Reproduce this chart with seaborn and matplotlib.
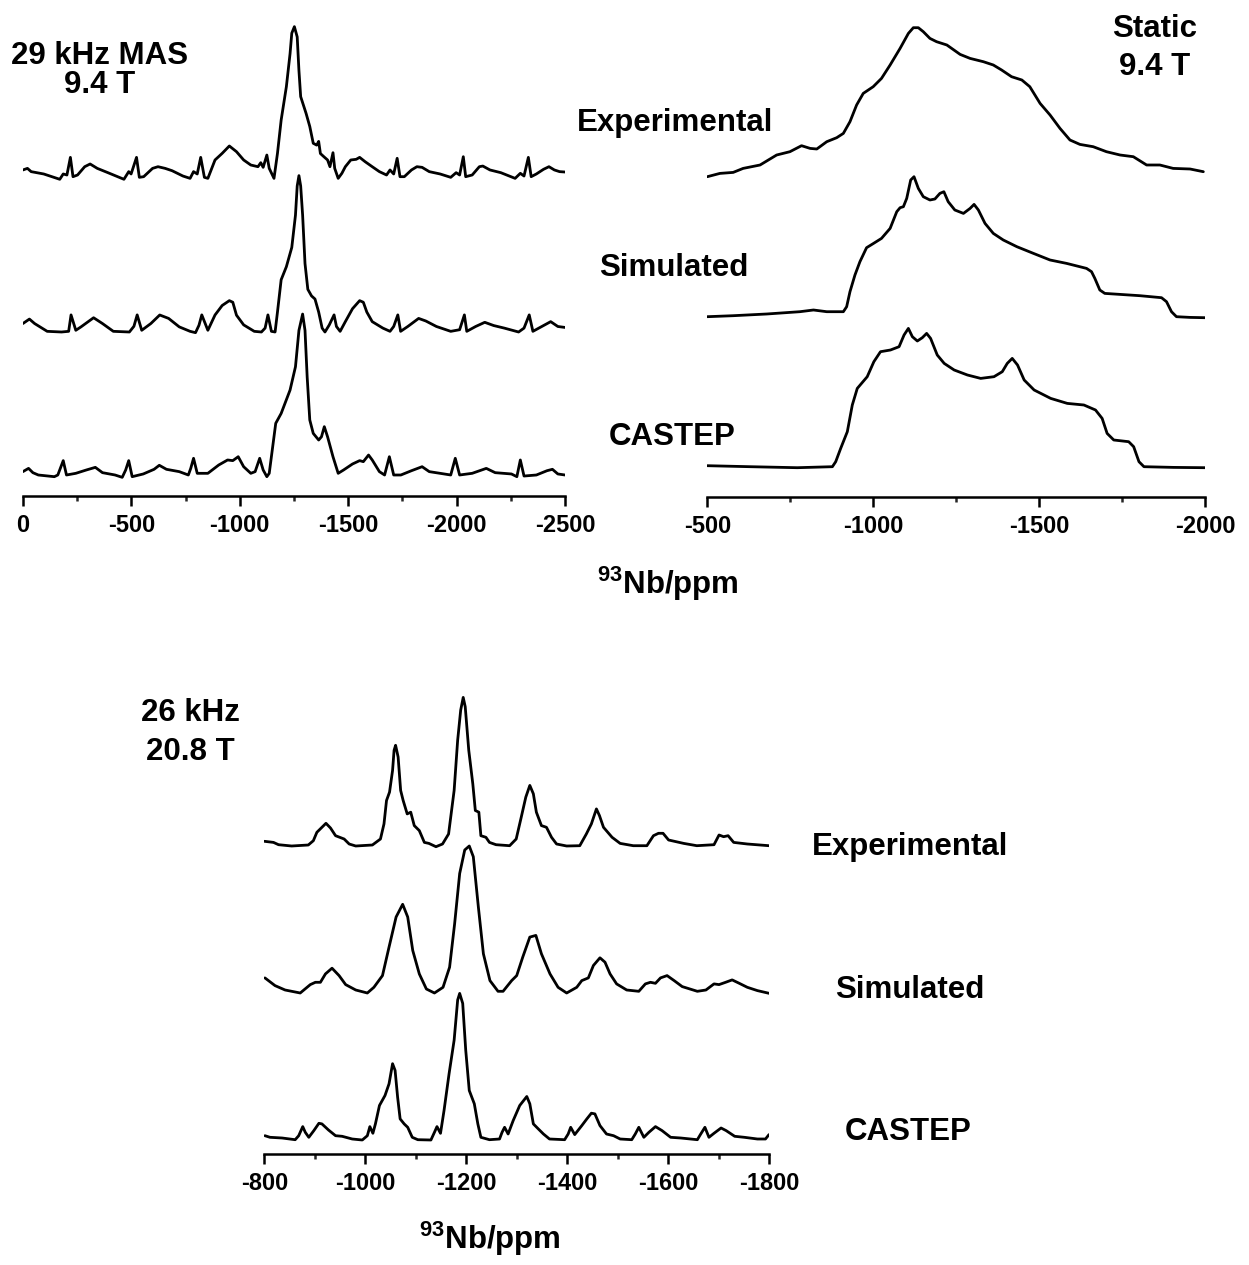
import matplotlib
matplotlib.use("Agg")
import matplotlib.pyplot as plt
import pandas as pd
import seaborn as sns
from matplotlib.ticker import MultipleLocator

# ---------------------------------------------------------------------------
# 93Nb spectra: (ppm, intensity) pairs, intensity in arbitrary units
# ---------------------------------------------------------------------------

# 29 kHz MAS, 9.4 T
mas94_experimental = [
    (0, 5.4), (-21, 7.1), (-38, 3.6), (-96, 1.1), (-170, -4.6), (-186, 1.1), (-203, 0),
    (-219, 18.9), (-231, -1.8), (-252, 0), (-285, 8.9), (-310, 11.8), (-343, 7.1),
    (-392, 2.5), (-466, -4.6), (-488, 3.6), (-499, 1.1), (-524, 18.9), (-537, -2.5),
    (-557, -1.8), (-598, 7.1), (-623, 8.9), (-656, 7.1), (-688, 4.6), (-738, -1.1),
    (-771, -3.6), (-787, 3.6), (-804, 1.1), (-820, 18.9), (-837, -2.5), (-853, -3.6),
    (-886, 16.1), (-919, 23.2), (-952, 31.1), (-985, 25), (-1018, 16.1), (-1051, 10.7),
    (-1084, 8.9), (-1097, 13.2), (-1108, 8.2), (-1125, 21.4), (-1136, 7.1), (-1158, -3.6),
    (-1174, 23.2), (-1191, 58.9), (-1215, 94.6), (-1232, 130), (-1240, 152), (-1252, 159),
    (-1265, 148), (-1273, 112), (-1281, 84), (-1306, 66), (-1323, 52), (-1339, 34),
    (-1355, 32), (-1364, 36), (-1372, 23), (-1388, 19.6), (-1405, 16.1), (-1416, 8.9),
    (-1430, 23.9), (-1438, 7.1), (-1454, -3.6), (-1471, 1.8), (-1487, 8.9), (-1512, 16.1),
    (-1537, 16.8), (-1553, 18.9), (-1578, 14.3), (-1611, 8.9), (-1644, 3.6), (-1677, 0),
    (-1693, 5.4), (-1710, 1.1), (-1726, 17.9), (-1739, -1.8), (-1759, -1.8), (-1792, 5.4),
    (-1817, 8.9), (-1841, 8.2), (-1874, 3.6), (-1924, 1.1), (-1973, -2.5), (-1998, 2.5),
    (-2014, 0), (-2031, 19.6), (-2042, -1.8), (-2072, 0), (-2105, 8.9), (-2121, 9.6),
    (-2154, 5.4), (-2204, 2.5), (-2270, -3.6), (-2294, 1.8), (-2311, -1.1), (-2331, 18.9),
    (-2344, -1.8), (-2368, 1.1), (-2401, 6.1), (-2426, 8.9), (-2451, 5.4), (-2475, 3.6),
    (-2500, 3.2),
]

mas94_simulated = [
    (0, 8.9), (-30, 13.6), (-54, 8.9), (-112, 0.7), (-178, 0), (-211, 0.7), (-222, 18),
    (-244, 1.8), (-268, 5.4), (-326, 15), (-367, 8.9), (-417, 0.7), (-491, 0), (-512, 6),
    (-527, 18), (-548, 1.8), (-590, 8.9), (-631, 17.9), (-672, 14.3), (-721, 5.4),
    (-771, 0.7), (-796, -0.7), (-812, 7.1), (-825, 18), (-853, 1.8), (-886, 17.9),
    (-919, 27.9), (-952, 33), (-968, 31.3), (-985, 17.7), (-1018, 7.5), (-1067, 0.7),
    (-1100, 0), (-1117, 4.1), (-1130, 18), (-1146, 0.7), (-1163, 0), (-1174, 21),
    (-1191, 55), (-1215, 68.7), (-1240, 89), (-1257, 123), (-1265, 153.7), (-1273, 164.6),
    (-1281, 153.7), (-1290, 123), (-1301, 72), (-1314, 44.9), (-1331, 38), (-1347, 34.7),
    (-1364, 21), (-1380, 4.1), (-1393, 0), (-1413, 7.5), (-1435, 18), (-1446, 5.8),
    (-1463, 0.7), (-1487, 10.9), (-1520, 24.5), (-1553, 33), (-1570, 31.3), (-1586, 21),
    (-1611, 10.9), (-1660, 4.1), (-1693, 0.7), (-1710, 5.8), (-1729, 18), (-1742, 0.7),
    (-1775, 5.8), (-1825, 14.3), (-1858, 11.6), (-1907, 5.8), (-1973, 0.7), (-2014, 2.4),
    (-2036, 18), (-2047, 0.7), (-2088, 5.8), (-2130, 10.2), (-2171, 6.8), (-2220, 4.1),
    (-2286, 0), (-2311, 4.1), (-2335, 18), (-2352, 0.7), (-2393, 5.8), (-2434, 10.9),
    (-2467, 5.8), (-2500, 4.8),
]

mas94_castep = [
    (0, 3.6), (-26, 7.1), (-46, 2.5), (-71, 0), (-145, -1.8), (-161, 0), (-186, 15.4),
    (-201, 0), (-244, 1.8), (-293, 5.4), (-334, 8.2), (-367, 2.5), (-425, 0), (-458, -2.5),
    (-474, 5.4), (-488, 15.4), (-504, -1.8), (-555, 1.1), (-605, 6.1), (-629, 10.4),
    (-662, 6.1), (-721, 3.6), (-763, 0), (-774, 7.1), (-787, 17.9), (-804, 1.8), (-853, 1.8),
    (-903, 10.7), (-944, 16.1), (-968, 15.4), (-993, 19.6), (-1018, 8.9), (-1051, 1.8),
    (-1071, 3.6), (-1092, 17.9), (-1108, 5.4), (-1125, -1.8), (-1136, 1.8), (-1150, 26.8),
    (-1166, 55.4), (-1191, 66), (-1232, 91), (-1257, 116), (-1273, 155), (-1290, 172.5),
    (-1301, 155), (-1311, 105), (-1323, 59), (-1339, 44.6), (-1364, 37.5), (-1377, 41),
    (-1390, 51.8), (-1405, 41), (-1430, 19.6), (-1454, 1.8), (-1479, 5.4), (-1520, 11.8),
    (-1553, 15.4), (-1570, 14.3), (-1594, 21.4), (-1611, 16.1), (-1644, 3.6), (-1668, 0),
    (-1690, 19.6), (-1710, 0), (-1743, 0), (-1792, 4.6), (-1841, 8.9), (-1874, 3.6),
    (-1924, 1.8), (-1973, 0), (-1994, 17.9), (-2014, 0), (-2072, 1.8), (-2137, 7.1),
    (-2178, 2.5), (-2253, 1.1), (-2278, -1.8), (-2294, 16.1), (-2311, -1.1), (-2368, 0),
    (-2417, 4.6), (-2442, 6.1), (-2467, 1.1), (-2500, 0),
]

# Static, 9.4 T
static_experimental = [
    (-500, 0), (-538, 3.3), (-578, 4.3), (-608, 8.3), (-659, 11.7), (-709, 21.7),
    (-749, 25), (-784, 31), (-810, 28.3), (-830, 27.7), (-860, 35), (-890, 39),
    (-910, 43.3), (-930, 55), (-950, 71.7), (-970, 83.3), (-1000, 90), (-1025, 98.3),
    (-1051, 111.7), (-1081, 128.3), (-1106, 143.3), (-1121, 149), (-1136, 149),
    (-1151, 145), (-1171, 138.3), (-1191, 135), (-1222, 131.7), (-1262, 122.3),
    (-1292, 118.3), (-1332, 115), (-1362, 111.7), (-1387, 106.7), (-1417, 100),
    (-1448, 96.7), (-1472, 90), (-1503, 73.3), (-1533, 61.7), (-1563, 48.3),
    (-1593, 36.7), (-1623, 32.3), (-1663, 30), (-1703, 25), (-1744, 21.7), (-1784, 20),
    (-1824, 11.7), (-1864, 11.7), (-1904, 8.3), (-1955, 7.7), (-1995, 5),
]

static_simulated = [
    (-500, 0), (-578, 1), (-679, 2.7), (-779, 5), (-820, 6.7), (-860, 5), (-910, 5),
    (-920, 10), (-930, 25), (-945, 41.7), (-960, 55), (-980, 69), (-1001, 73.3),
    (-1025, 78.3), (-1051, 88.3), (-1071, 105), (-1081, 109), (-1091, 110), (-1101, 118.3),
    (-1113, 136.7), (-1123, 140), (-1136, 128.3), (-1151, 120), (-1171, 116.7),
    (-1186, 117.7), (-1201, 123.3), (-1213, 125), (-1226, 115), (-1246, 106.7),
    (-1272, 103.3), (-1292, 108.3), (-1304, 112.3), (-1317, 106.7), (-1337, 93.3),
    (-1362, 83.3), (-1392, 76.7), (-1433, 70), (-1483, 63.3), (-1533, 56.7),
    (-1583, 53.3), (-1643, 48.3), (-1658, 45), (-1668, 38.3), (-1683, 26.7),
    (-1698, 23.3), (-1744, 22.3), (-1804, 21), (-1869, 19), (-1884, 15), (-1899, 5),
    (-1914, 0), (-1955, -0.7), (-2000, -1),
]

static_castep = [
    (-500, 1), (-629, 0), (-771, -1), (-877, 0), (-887, 5), (-902, 18.3), (-922, 35),
    (-937, 61.7), (-952, 78.3), (-982, 90), (-1002, 105), (-1022, 115), (-1052, 116.7),
    (-1078, 120), (-1093, 131.7), (-1106, 138.3), (-1118, 130), (-1133, 125.7),
    (-1148, 129), (-1161, 133.3), (-1173, 128.3), (-1193, 111.7), (-1214, 103.3),
    (-1244, 96.7), (-1284, 91.7), (-1324, 88.3), (-1364, 90), (-1389, 95), (-1404, 103.3),
    (-1419, 108.3), (-1435, 101.7), (-1455, 86.7), (-1485, 76.7), (-1535, 68.3),
    (-1585, 63.3), (-1635, 61.7), (-1670, 56.7), (-1690, 48.3), (-1705, 33.3),
    (-1725, 26.7), (-1770, 25), (-1785, 20), (-1801, 5), (-1816, 0), (-1906, -0.7),
    (-2000, -1),
]

# 26 kHz MAS, 20.8 T
mas208_experimental = [
    (-800, 4.4), (-818, 3.3), (-828, 1), (-854, -0.3), (-887, 0.7), (-897, 5), (-904, 13.4),
    (-914, 18.4), (-922, 22.4), (-931, 17.7), (-941, 10), (-958, 6.7), (-968, 1.7),
    (-981, -0.3), (-1014, 0.7), (-1030, 6.7), (-1037, 21.8), (-1042, 45.2), (-1048, 53.6),
    (-1054, 75.3), (-1057, 95.4), (-1060, 100.4), (-1065, 88.7), (-1070, 55.3),
    (-1075, 45.2), (-1083, 31.8), (-1090, 33.5), (-1097, 20.1), (-1107, 15.1),
    (-1117, 3.3), (-1126, 2.3), (-1140, -1), (-1153, 1.7), (-1165, 11.7), (-1176, 55.2),
    (-1183, 105.5), (-1189, 135.6), (-1194, 148.3), (-1198, 138.9), (-1205, 95.4),
    (-1213, 61.9), (-1218, 35.2), (-1225, 33.5), (-1229, 10), (-1239, 8.4), (-1246, 3.3),
    (-1259, 1), (-1286, 0), (-1299, 6.7), (-1309, 28.5), (-1318, 48.5), (-1326, 60.3),
    (-1333, 51.9), (-1339, 33.5), (-1349, 20.1), (-1359, 18.4), (-1369, 8.4), (-1379, 1.7),
    (-1399, -0.3), (-1425, 0), (-1438, 11.7), (-1448, 21.8), (-1458, 36.8), (-1464, 30.1),
    (-1472, 18.4), (-1489, 8.4), (-1505, 2.3), (-1531, 0), (-1558, 0), (-1571, 10),
    (-1581, 12.4), (-1590, 12.4), (-1601, 5.7), (-1631, 2.3), (-1657, 0), (-1691, 1),
    (-1701, 10.7), (-1710, 9), (-1719, 10), (-1730, 3.3), (-1757, 1.7), (-1800, 0),
]

mas208_simulated = [
    (-801, 14.4), (-821, 6.7), (-841, 2.3), (-871, -0.7), (-891, 7.7), (-901, 10),
    (-911, 10), (-921, 18.4), (-934, 24.1), (-948, 16.7), (-961, 7.7), (-981, 2.3),
    (-1004, -0.7), (-1017, 5), (-1034, 16.7), (-1047, 45.2), (-1061, 75.3), (-1074, 88),
    (-1084, 75.3), (-1094, 41.8), (-1107, 18.4), (-1121, 3.3), (-1137, -0.7), (-1154, 5),
    (-1167, 25.1), (-1177, 68.6), (-1187, 118.8), (-1197, 142.3), (-1206, 146.3),
    (-1214, 135.6), (-1224, 85.4), (-1234, 38.5), (-1247, 11.7), (-1263, 1), (-1273, 1),
    (-1290, 11.7), (-1300, 16.7), (-1312, 35.2), (-1326, 55.2), (-1338, 56.9),
    (-1349, 38.5), (-1366, 18.4), (-1382, 5), (-1399, -0.7), (-1419, 5), (-1429, 11.7),
    (-1442, 14.4), (-1452, 26.8), (-1465, 34.5), (-1475, 30.1), (-1485, 18.4),
    (-1498, 8.4), (-1518, 2.3), (-1542, 1), (-1555, 8.4), (-1565, 10), (-1575, 9),
    (-1585, 14.4), (-1598, 16.7), (-1612, 11.7), (-1628, 5.7), (-1658, 1), (-1675, 2.3),
    (-1691, 8.4), (-1701, 7.7), (-1714, 10), (-1727, 12.4), (-1741, 9), (-1757, 5),
    (-1777, 1.7), (-1800, -1),
]

mas208_castep = [
    (-801, 3.3), (-811, 1.7), (-835, 1), (-861, -0.7), (-868, 3.3), (-876, 12.4),
    (-881, 6.7), (-888, 1.7), (-898, 8.4), (-908, 15.7), (-914, 15.1), (-927, 9),
    (-941, 3.3), (-954, 2.7), (-974, 0), (-994, -1), (-1004, 3.3), (-1009, 12.4),
    (-1015, 5.7), (-1020, 15.1), (-1028, 33.5), (-1039, 43.5), (-1047, 55.2),
    (-1054, 75.3), (-1059, 68.6), (-1064, 41.8), (-1069, 20.1), (-1077, 15.1),
    (-1084, 11.7), (-1093, 1.7), (-1104, -0.7), (-1130, -1), (-1137, 6.7), (-1142, 12.4),
    (-1149, 5.7), (-1156, 28.5), (-1166, 65.3), (-1176, 98.8), (-1183, 139), (-1187, 145.6),
    (-1193, 135.6), (-1199, 88.7), (-1206, 48.5), (-1216, 35.2), (-1223, 15.1),
    (-1229, 1.7), (-1246, -0.7), (-1266, 0), (-1271, 6.7), (-1276, 11.7), (-1283, 5),
    (-1293, 18.4), (-1306, 33.5), (-1320, 42.5), (-1326, 35.2), (-1333, 15.1),
    (-1343, 10), (-1353, 5), (-1365, 0), (-1395, -0.7), (-1402, 5), (-1407, 11.7),
    (-1415, 4.4), (-1429, 13.4), (-1439, 20.1), (-1448, 25.8), (-1455, 25.1),
    (-1465, 13.4), (-1478, 5), (-1492, 3.3), (-1505, 0), (-1528, -0.7), (-1535, 5),
    (-1542, 11.7), (-1552, 1.7), (-1562, 6.7), (-1575, 12.4), (-1588, 8.4), (-1605, 1.7),
    (-1625, 1), (-1658, -0.7), (-1664, 4.4), (-1673, 11.7), (-1681, 1.7), (-1691, 5.7),
    (-1705, 11), (-1715, 8.4), (-1732, 2.7), (-1751, 1.7), (-1777, 0), (-1793, 0),
    (-1800, 4.4),
]

series_names = ["Experimental", "Simulated", "CASTEP"]
mas94_ticks = [0, -500, -1000, -1500, -2000, -2500]
static_ticks = [-500, -1000, -1500, -2000]
mas208_ticks = [-800, -1000, -1200, -1400, -1600, -1800]

# ---------------------------------------------------------------------------
# Style
# ---------------------------------------------------------------------------
sns.set_theme(style="white")
plt.rcParams["font.family"] = ["Liberation Sans", "DejaVu Sans"]
plt.rcParams["font.weight"] = "bold"
plt.rcParams["axes.unicode_minus"] = False
plt.rcParams["mathtext.fontset"] = "custom"
plt.rcParams["mathtext.rm"] = "Liberation Sans:bold"
plt.rcParams["mathtext.default"] = "rm"

W, H = 1249, 1265
fig = plt.figure(figsize=(W / 100, H / 100), dpi=100, facecolor="white")


def stacked_panel(left, right, top, axis_y, xlim, ticks, traces, offsets, gains):
    """One spectrum stack; y units are figure pixels above the x axis."""
    ax = fig.add_axes([left / W, 1 - axis_y / H, (right - left) / W, (axis_y - top) / H])
    ax.set_facecolor("none")
    for name, pts, off, gain in zip(series_names, traces, offsets, gains):
        df = pd.DataFrame(pts, columns=["ppm", "intensity"])
        df["shifted"] = df["intensity"] * gain + off
        sns.lineplot(data=df, x="ppm", y="shifted", ax=ax, color="black",
                     linewidth=2.0, sort=False, estimator=None,
                     solid_joinstyle="round", solid_capstyle="round")
    ax.set_xlim(*xlim)
    ax.set_ylim(0, axis_y - top)
    ax.set_xticks(ticks)
    ax.xaxis.set_minor_locator(MultipleLocator(abs(ticks[1] - ticks[0]) / 2))
    ax.set_yticks([])
    ax.set_xlabel("")
    ax.set_ylabel("")
    for side in ("left", "right", "top"):
        ax.spines[side].set_visible(False)
    ax.spines["bottom"].set_linewidth(1.8)
    ax.spines["bottom"].set_color("black")
    ax.tick_params(axis="x", which="major", direction="out", length=7, width=1.8,
                   labelsize=17, pad=6, bottom=True, colors="black")
    ax.tick_params(axis="x", which="minor", direction="out", length=3.8, width=1.8,
                   bottom=True)
    for lab in ax.get_xticklabels():
        lab.set_fontweight("bold")
    return ax


stacked_panel(22.9, 565, 10, 496, (0, -2500), mas94_ticks,
              [mas94_experimental, mas94_simulated, mas94_castep],
              [321, 164, 21], [0.933, 0.95, 0.933])
stacked_panel(707.3, 1205, 10, 497, (-500, -2000), static_ticks,
              [static_experimental, static_simulated, static_castep],
              [320.3, 180.3, 30.3], [1, 1, 1])
stacked_panel(264.4, 769, 680, 1154, (-800, -1800), mas208_ticks,
              [mas208_experimental, mas208_simulated, mas208_castep],
              [308.3, 161.7, 15], [1, 1, 1])


def label(x, y, s, size=22.5):
    fig.text(x / W, 1 - y / H, s, ha="center", va="center", fontsize=size,
             fontweight="bold", color="black")


label(100, 56, "29 kHz MAS")
label(100, 85, "9.4 T")
label(1155, 29, "Static")
label(1155, 67, "9.4 T")
label(675, 123, series_names[0])
label(674, 268, series_names[1])
label(672, 437, series_names[2])
label(668, 584, r"$^{93}$Nb/ppm")

label(190, 713, "26 kHz")
label(190, 752, "20.8 T")
label(910, 847, series_names[0])
label(910, 990, series_names[1])
label(908, 1132, series_names[2])
label(490, 1239, r"$^{93}$Nb/ppm")

fig.savefig("out.png", dpi=100, facecolor="white")
